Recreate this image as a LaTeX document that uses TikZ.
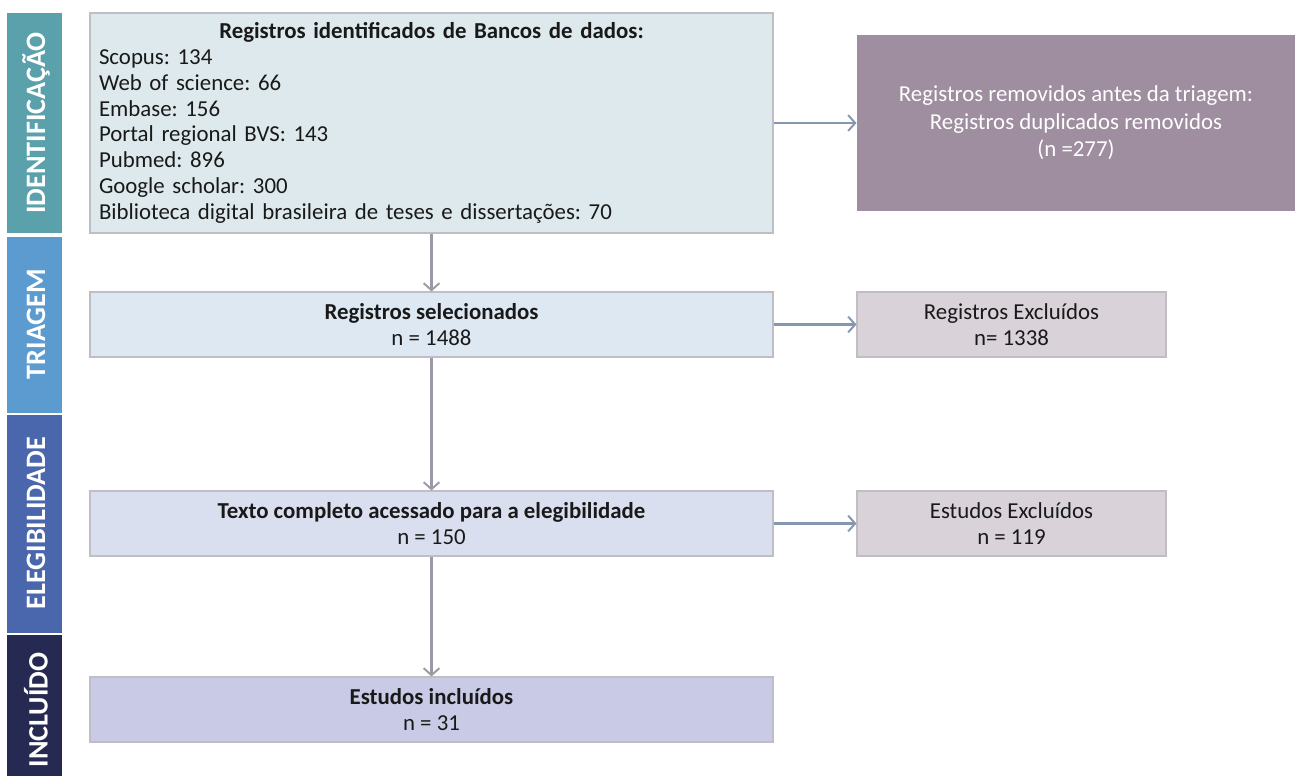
\documentclass[tikz,border=0pt]{standalone}
\usepackage{fontspec}
\setmainfont{Carlito}
\usepackage{tikz}
\usetikzlibrary{arrows.meta}
\frenchspacing

\definecolor{barident}{HTML}{5AA1AC}
\definecolor{bartriag}{HTML}{5B9BD0}
\definecolor{bareleg}{HTML}{4A66AC}
\definecolor{barincl}{HTML}{262A52}
\definecolor{fillident}{HTML}{DDE9EC}
\definecolor{fillselec}{HTML}{DEE8F3}
\definecolor{filltexto}{HTML}{D9DFEF}
\definecolor{fillincl}{HTML}{C9CBE6}
\definecolor{fillremov}{HTML}{9E8E9F}
\definecolor{fillexcl}{HTML}{D9D3D9}
\definecolor{boxline}{HTML}{BEBEC4}
\definecolor{arrowv}{HTML}{9D98A8}
\definecolor{arrowh}{HTML}{8496B0}

\tikzset{
    stagebox/.style={draw=boxline, line width=0.6pt, inner sep=0pt,
        font=\fontsize{13}{14.8}\selectfont, align=center, text=black!90},
    sidebar/.style={inner sep=0pt, text=white, rotate=90,
        font=\fontsize{16}{18}\selectfont\bfseries},
    flowv/.style={draw=arrowv, line width=1.4pt,
        -{Straight Barb[length=4pt,width=9pt,line width=1.1pt]}},
    flowh/.style={draw=arrowh, line width=1.3pt,
        -{Straight Barb[length=4pt,width=9pt,line width=1.1pt]}}
}

\begin{document}
\begin{tikzpicture}[x=0.02cm, y=-0.02cm]
    % Page frame
    \useasboundingbox (0,0) rectangle (1295,776);

    % Side bars for the phases
    \fill[barident] (7,13) rectangle (62,233);
    \fill[bartriag] (7,237) rectangle (62,413);
    \fill[bareleg] (7,415) rectangle (62,633);
    \fill[barincl] (7,635) rectangle (62,776);
    \node[sidebar] (lident) at (36,123) {IDENTIFICAÇÃO};
    \node[sidebar] (ltriag) at (36,324) {TRIAGEM};
    \node[sidebar] (leleg) at (36,523) {ELEGIBILIDADE};
    \node[sidebar] (lincl) at (36,710) {INCLUÍDO};

    % Identification box
    \node[stagebox, fill=fillident, minimum width=683*0.02cm,
        minimum height=220*0.02cm, text width=665*0.02cm, align=left,
        font=\fontsize{13}{14.7}\selectfont]
        (ident) at (431.5,123) {%
        \makebox[\linewidth]{\bfseries Registros identificados de Bancos de dados:}\\
        Scopus: 134\\
        Web of science: 66\\
        Embase: 156\\
        Portal regional BVS: 143\\
        Pubmed: 896\\
        Google scholar: 300\\
        Biblioteca digital brasileira de teses e dissertações: 70};

    % Duplicates removed
    \node[stagebox, draw=none, fill=fillremov, text=white,
        font=\fontsize{13}{15.6}\selectfont,
        minimum width=438*0.02cm, minimum height=176*0.02cm]
        (remov) at (1076,123) {Registros removidos antes da triagem:\\
        Registros duplicados removidos\\(n =277)};

    % Screening
    \node[stagebox, fill=fillselec, minimum width=683*0.02cm,
        minimum height=65*0.02cm] (selec) at (431.5,324.5)
        {\textbf{Registros selecionados}\\n = 1488};
    \node[stagebox, fill=fillexcl, minimum width=309*0.02cm,
        minimum height=65*0.02cm] (rexcl) at (1011.5,324.5)
        {Registros Excluídos\\n= 1338};

    % Eligibility
    \node[stagebox, fill=filltexto, minimum width=683*0.02cm,
        minimum height=65*0.02cm] (texto) at (431.5,523.5)
        {\textbf{Texto completo acessado para a elegibilidade}\\n = 150};
    \node[stagebox, fill=fillexcl, minimum width=309*0.02cm,
        minimum height=65*0.02cm] (eexcl) at (1011.5,523.5)
        {Estudos Excluídos\\n = 119};

    % Included
    \node[stagebox, fill=fillincl, minimum width=683*0.02cm,
        minimum height=65*0.02cm] (incl) at (431.5,709.5)
        {\textbf{Estudos incluídos}\\n = 31};

    % Arrows down the flow
    \draw[flowv] (ident.south) -- (selec.north);
    \draw[flowv] (selec.south) -- (texto.north);
    \draw[flowv] (texto.south) -- (incl.north);

    % Arrows to the exclusions
    \draw[flowh] (ident.east) -- (remov.west);
    \draw[flowh] (selec.east) -- (rexcl.west);
    \draw[flowh] (texto.east) -- (eexcl.west);
\end{tikzpicture}
\end{document}
